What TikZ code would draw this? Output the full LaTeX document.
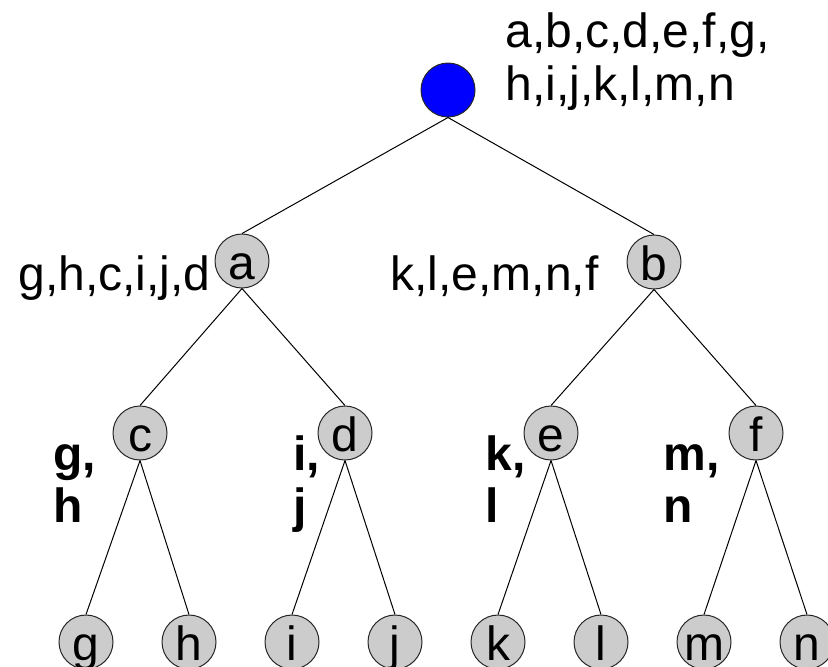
\documentclass[tikz,border=0pt]{standalone}
\usepackage{fontspec}
\setmainfont{Liberation Sans}
\usetikzlibrary{positioning}
\definecolor{rootblue}{HTML}{0000FF}
\definecolor{vxgray}{HTML}{CCCCCC}

\begin{document}
\begin{tikzpicture}[x=0.5pt,y=-0.5pt,
  every node/.style={font=\fontsize{24}{26.5}\selectfont},
  vx/.style={circle,draw=black!85,fill=vxgray,line width=0.5pt,minimum size=27pt,inner sep=0pt,text height=18pt,text depth=-2pt},
  rt/.style={vx,fill=rootblue},
  lst/.style={anchor=base west,inner sep=0pt,align=left},
  pair/.style={lst,font=\fontsize{24}{26}\selectfont\bfseries},
  br/.style={black,line width=0.5pt}]

\useasboundingbox (0,0) rectangle (828,666);

% tree
\node[rt] (r) at (448,90) {};
\node[vx] (a) at (242,261) {a};
\node[vx] (b) at (654,262) {b};
\node[vx] (c) at (140,433) {c};
\node[vx] (d) at (345,433) {d};
\node[vx] (e) at (551,433) {e};
\node[vx] (f) at (756,433) {f};
\node[vx] (g) at (86,642) {g};
\node[vx] (h) at (189,642) {h};
\node[vx] (i) at (292,642) {i};
\node[vx] (j) at (395,642) {j};
\node[vx] (k) at (498,642) {k};
\node[vx] (l) at (601,642) {l};
\node[vx] (m) at (704,642) {m};
\node[vx] (n) at (807,642) {n};

\draw[br] (r.south)--(a.north); \draw[br] (r.south)--(b.north);
\draw[br] (a.south)--(c.north); \draw[br] (a.south)--(d.north);
\draw[br] (b.south)--(e.north); \draw[br] (b.south)--(f.north);
\draw[br] (c.south)--(g.north); \draw[br] (c.south)--(h.north);
\draw[br] (d.south)--(i.north); \draw[br] (d.south)--(j.north);
\draw[br] (e.south)--(k.north); \draw[br] (e.south)--(l.north);
\draw[br] (f.south)--(m.north); \draw[br] (f.south)--(n.north);

% element lists (base = last line)
\node[lst] (rl) at (505,100) {a,b,c,d,e,f,g,\\h,i,j,k,l,m,n};
\node[lst] (al) at (18,290) {g,h,c,i,j,d};
\node[lst] (bl) at (390,290) {k,l,e,m,n,f};
\node[pair] (cl) at (53,522) {g,\\h};
\node[pair] (dl) at (293,522) {i,\\j};
\node[pair] (el) at (485,522) {k,\\l};
\node[pair] (fl) at (663,522) {m,\\n};
\end{tikzpicture}
\end{document}
